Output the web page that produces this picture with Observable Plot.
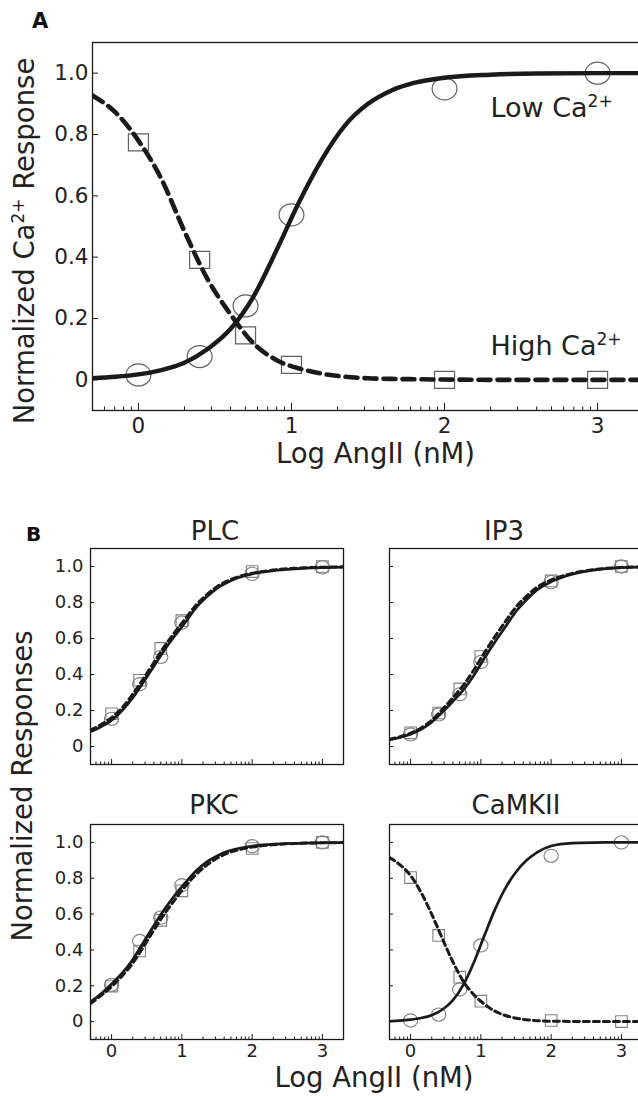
<!DOCTYPE html>
<html><head><meta charset="utf-8">
<script src="https://cdn.jsdelivr.net/npm/d3@7"></script>
<script src="https://cdn.jsdelivr.net/npm/@observablehq/plot@0.6"></script>
<style>
html,body{margin:0;padding:0;background:#fff;overflow:hidden}
#root{position:relative;width:638px;height:1096px;overflow:hidden;background:#fff}
</style></head><body><div id="root"></div>
<script>
// ---------- data ----------
const xDomain = [-0.3, 3.3];
const yDomain = [-0.1, 1.1];
const xMajorTicks = [0, 1, 2, 3];
const yTicks = [0, 0.2, 0.4, 0.6, 0.8, 1.0];
const doses = [0, 0.4, 0.7, 1, 2, 3];           // log10 AngII (nM) of the measured points
const curveX = [-0.3, -0.15, 0, 0.15, 0.3, 0.45, 0.6, 0.75, 0.9, 1.05, 1.2, 1.35, 1.5, 1.65, 1.8, 2.0, 2.3, 2.6, 3.0, 3.3];

// Panel A
const aLowPts  = [0.016, 0.076, 0.241, 0.538, 0.949, 1.0];
const aHighPts = [0.774, 0.391, 0.145, 0.049, 0.0, 0.0];
const aLowFit  = [0.005, 0.010, 0.018, 0.032, 0.056, 0.10, 0.165, 0.27, 0.42, 0.58, 0.72, 0.83, 0.90, 0.943, 0.968, 0.985, 0.995, 0.999, 1.0, 1.0];
const aHighFit = [0.927, 0.872, 0.78, 0.655, 0.485, 0.33, 0.215, 0.12, 0.065, 0.037, 0.02, 0.01, 0.005, 0.003, 0.002, 0.001, 0, 0, 0, 0];
const annLabels = ["Low Ca2+", "High Ca2+"];
const annX = [2.30, 2.30];
const annY = [0.886, 0.109];

// Panel B
const plcCircles = [0.154, 0.346, 0.498, 0.688, 0.959, 0.995];
const plcSquares = [0.182, 0.368, 0.545, 0.699, 0.972, 1.0];
const plcSolid  = [0.082, 0.11, 0.145, 0.20, 0.27, 0.355, 0.445, 0.535, 0.615, 0.69, 0.77, 0.83, 0.879, 0.912, 0.937, 0.959, 0.977, 0.987, 0.994, 0.997];
const plcDashed = [0.09, 0.122, 0.16, 0.215, 0.29, 0.375, 0.465, 0.555, 0.635, 0.71, 0.785, 0.842, 0.888, 0.92, 0.943, 0.963, 0.98, 0.99, 0.996, 0.998];

const ip3Circles = [0.067, 0.178, 0.29, 0.47, 0.913, 1.0];
const ip3Squares = [0.076, 0.186, 0.32, 0.50, 0.92, 1.0];
const ip3Solid  = [0.037, 0.05, 0.068, 0.095, 0.135, 0.19, 0.25, 0.315, 0.395, 0.49, 0.58, 0.665, 0.75, 0.815, 0.87, 0.915, 0.957, 0.98, 0.994, 0.997];
const ip3Dashed = [0.04, 0.054, 0.074, 0.103, 0.145, 0.205, 0.27, 0.34, 0.425, 0.52, 0.61, 0.695, 0.775, 0.835, 0.885, 0.925, 0.962, 0.982, 0.995, 0.998];

const pkcCircles = [0.205, 0.45, 0.58, 0.761, 0.979, 1.0];
const pkcSquares = [0.198, 0.394, 0.565, 0.73, 0.966, 1.0];
const pkcSolid  = [0.11, 0.155, 0.21, 0.27, 0.345, 0.44, 0.535, 0.625, 0.705, 0.775, 0.84, 0.89, 0.925, 0.95, 0.966, 0.979, 0.99, 0.995, 0.998, 0.999];
const pkcDashed = [0.10, 0.145, 0.195, 0.255, 0.325, 0.415, 0.51, 0.60, 0.68, 0.755, 0.82, 0.872, 0.912, 0.94, 0.958, 0.974, 0.987, 0.994, 0.998, 0.999];

const camCircles = [0.006, 0.039, 0.179, 0.425, 0.925, 1.0];
const camSquares = [0.804, 0.481, 0.248, 0.114, 0.006, 0.0];
const camSolid  = [0.002, 0.005, 0.011, 0.02, 0.036, 0.066, 0.118, 0.205, 0.33, 0.48, 0.625, 0.745, 0.835, 0.90, 0.945, 0.98, 0.996, 0.999, 1.0, 1.0];
const camDashed = [0.916, 0.875, 0.815, 0.72, 0.60, 0.465, 0.335, 0.225, 0.15, 0.097, 0.058, 0.034, 0.019, 0.01, 0.005, 0.002, 0.001, 0, 0, 0];

const panelTitles = ["PLC", "IP3", "PKC", "CaMKII"];
const xLabel = "Log AngII (nM)";
const yLabelA = ["Normalized Ca", "2+", " Response"];
const yLabelB = "Normalized Responses";

// ---------- drawing ----------
const FONT = "DejaVu Sans";
const INK = "#1a1a1a";
const TXT = "#222";
const ROOT = document.getElementById("root");
const NS = "http://www.w3.org/2000/svg";
const fmtY = d => d === 0 ? "0" : d.toFixed(1);
const minorTicks = [-1, 0, 1, 2, 3]
  .flatMap(dec => [2, 3, 4, 5, 6, 7, 8, 9].map(m => Math.log10(m) + dec))
  .filter(v => v > xDomain[0] + 0.01 && v < xDomain[1]);

function ellipseSym(ax, ay) {
  const k = 0.5523;
  return {draw(ctx, size) {
    const r = Math.sqrt(size / Math.PI), rx = r * ax, ry = r * ay;
    ctx.moveTo(rx, 0);
    ctx.bezierCurveTo(rx, ry * k, rx * k, ry, 0, ry);
    ctx.bezierCurveTo(-rx * k, ry, -rx, ry * k, -rx, 0);
    ctx.bezierCurveTo(-rx, -ry * k, -rx * k, -ry, 0, -ry);
    ctx.bezierCurveTo(rx * k, -ry, rx, -ry * k, rx, 0);
    ctx.closePath();
  }};
}
function boxSym(ax, ay) {
  return {draw(ctx, size) {
    const r = Math.sqrt(size / Math.PI), w = r * ax, h = r * ay;
    ctx.moveTo(-w, -h); ctx.lineTo(w, -h); ctx.lineTo(w, h); ctx.lineTo(-w, h); ctx.closePath();
  }};
}

function makePanel(c) {
  const pts = doses.map((x, i) => ({x, c: c.circles[i], s: c.squares[i]}));
  const fit = curveX.map((x, i) => ({x, solid: c.solid[i], dashed: c.dashed[i]}));
  const marks = [
    Plot.dot(pts, {x: "x", y: "c", symbol: c.circleSym, r: c.rc, stroke: c.mStroke, strokeWidth: c.mWidth, fill: "none"}),
    Plot.dot(pts, {x: "x", y: "s", symbol: c.squareSym, r: c.rs, stroke: c.mStroke, strokeWidth: c.mWidth, fill: "none"}),
    Plot.line(fit, {x: "x", y: "solid", curve: "monotone-x", stroke: INK, strokeWidth: c.lw, clip: true}),
    Plot.line(fit, {x: "x", y: "dashed", curve: "monotone-x", stroke: INK, strokeWidth: c.dlw, strokeDasharray: c.dash, clip: true}),
    Plot.axisY({ticks: yTicks, tickSize: -c.yTick, fill: "none", label: null, stroke: INK}),
    Plot.axisX({ticks: xMajorTicks, tickSize: -c.xTick, fill: "none", label: null, stroke: INK}),
    Plot.axisX({ticks: minorTicks, tickSize: -c.minorTick, fill: "none", label: null, stroke: INK}),
    Plot.frame({stroke: INK, strokeWidth: 1.3})
  ];
  if (c.showY) marks.push(Plot.axisY({ticks: yTicks, tickSize: 0, tickPadding: c.padY, tickFormat: fmtY, label: null, fontSize: c.fs, fontFamily: FONT, fill: TXT}));
  if (c.showX) marks.push(Plot.axisX({ticks: xMajorTicks, tickSize: 0, tickPadding: c.padX, tickFormat: d => String(d), label: null, fontSize: c.fs, fontFamily: FONT, fill: TXT}));
  if (c.ann) marks.push(Plot.text(c.ann, {x: "x", y: "y", text: "label", textAnchor: "start", fontSize: 27, fontFamily: FONT, fill: TXT}));
  const svg = Plot.plot({
    width: c.mL + c.fw + c.mR, height: c.mT + c.fh + c.mB,
    marginLeft: c.mL, marginRight: c.mR, marginTop: c.mT, marginBottom: c.mB,
    x: {domain: xDomain}, y: {domain: yDomain},
    marks
  });
  svg.style.position = "absolute";
  svg.style.left = (c.fl - c.mL) + "px";
  svg.style.top = (c.ft - c.mT) + "px";
  svg.style.maxWidth = "none";
  svg.style.background = "transparent";
  svg.style.overflow = "visible";
  svg.setAttribute("font-family", FONT);
  // superscript for Ca2+
  svg.querySelectorAll("text").forEach(t => {
    if (/Ca2\+$/.test(t.textContent) && t.children.length === 0) {
      const base = t.textContent.slice(0, -2);
      t.textContent = base;
      const sup = document.createElementNS(NS, "tspan");
      sup.setAttribute("font-size", "17");
      sup.setAttribute("dy", "-10");
      sup.textContent = "2+";
      t.appendChild(sup);
    }
  });
  ROOT.appendChild(svg);
}

// Panel A
makePanel({
  fl: 92, ft: 42, fw: 551, fh: 368, mL: 92, mT: 42, mR: 10, mB: 40,
  circles: aLowPts, squares: aHighPts, solid: aLowFit, dashed: aHighFit,
  circleSym: ellipseSym(1.13, 1.0), squareSym: boxSym(1.0, 0.85), rc: 11, rs: 10,
  mStroke: "#606060", mWidth: 1.2, lw: 4.4, dlw: 4.6, dash: "12,7",
  yTick: 6, xTick: 7, minorTick: 3.5, fs: 21.5, padY: 4, padX: 7,
  showX: true, showY: true,
  ann: annLabels.map((label, i) => ({label, x: annX[i], y: annY[i]}))
});

// Panel B
const bCommon = {
  fw: 253, mL: 70, mT: 10, mR: 10, mB: 30,
  circleSym: ellipseSym(1.08, 1.0), squareSym: boxSym(1.0, 1.0), rc: 6.6, rs: 5.8,
  mStroke: "#808080", mWidth: 1.1, lw: 2.7, dlw: 3, dash: "6,4",
  yTick: 4, xTick: 5, minorTick: 2.5, fs: 18, padY: 7, padX: 5
};
makePanel({...bCommon, fl: 90, ft: 548, fh: 216, circles: plcCircles, squares: plcSquares, solid: plcSolid, dashed: plcDashed, showY: true, showX: false});
makePanel({...bCommon, fl: 389, ft: 548, fh: 216, circles: ip3Circles, squares: ip3Squares, solid: ip3Solid, dashed: ip3Dashed, showY: false, showX: false});
makePanel({...bCommon, fl: 90, ft: 824, fh: 215, circles: pkcCircles, squares: pkcSquares, solid: pkcSolid, dashed: pkcDashed, showY: true, showX: true});
makePanel({...bCommon, fl: 389, ft: 824, fh: 215, circles: camCircles, squares: camSquares, solid: camSolid, dashed: camDashed, showY: false, showX: true});

// Overlay: panel letters, axis labels, subplot titles
const ov = document.createElementNS(NS, "svg");
ov.setAttribute("width", "638"); ov.setAttribute("height", "1096");
ov.setAttribute("font-family", FONT); ov.setAttribute("fill", TXT);
ov.style.position = "absolute"; ov.style.left = "0"; ov.style.top = "0";
function txt(str, attrs) {
  const t = document.createElementNS(NS, "text");
  for (const k in attrs) t.setAttribute(k, attrs[k]);
  if (str !== null) t.textContent = str;
  ov.appendChild(t);
  return t;
}
function tspan(parent, str, attrs) {
  const s = document.createElementNS(NS, "tspan");
  for (const k in attrs) s.setAttribute(k, attrs[k]);
  s.textContent = str;
  parent.appendChild(s);
}
txt("A", {x: 32, y: 28, "font-size": 21, "font-weight": "bold", fill: "#111"});
txt("B", {x: 26, y: 541, "font-size": 20, "font-weight": "bold", fill: "#111"});
const yl = txt(null, {transform: "translate(34,241) rotate(-90)", "text-anchor": "middle", "font-size": 27.5});
tspan(yl, yLabelA[0], {});
tspan(yl, yLabelA[1], {"font-size": 17, dy: -10});
tspan(yl, yLabelA[2], {dy: 10});
txt(xLabel, {x: 375.5, y: 463, "text-anchor": "middle", "font-size": 27.5});
txt(yLabelB, {transform: "translate(32,786) rotate(-90)", "text-anchor": "middle", "font-size": 27.5});
txt(xLabel, {x: 374, y: 1087, "text-anchor": "middle", "font-size": 27.5});
const titlePos = [[215, 540], [504, 540], [214, 814], [516, 814]];
panelTitles.forEach((t, i) => txt(t, {x: titlePos[i][0], y: titlePos[i][1], "text-anchor": "middle", "font-size": 26}));
ROOT.appendChild(ov);
</script>
</body></html>
